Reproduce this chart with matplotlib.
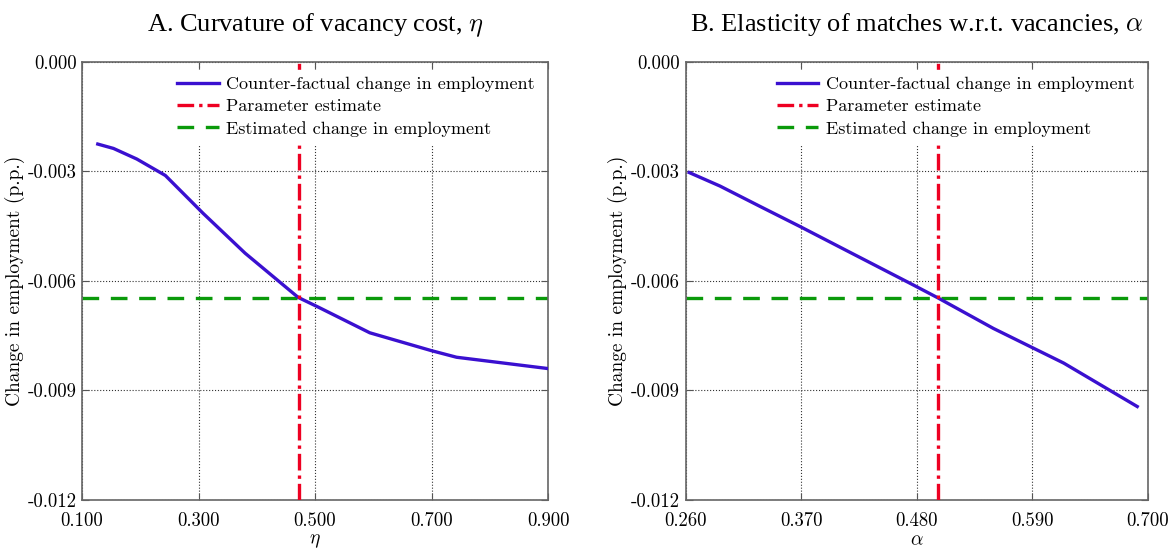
import matplotlib
matplotlib.use("Agg")
import matplotlib.pyplot as plt
import numpy as np

# Panel A data
eta_x = [0.127, 0.154, 0.194, 0.243, 0.308, 0.380, 0.471, 0.506, 0.594, 0.700, 0.743, 0.900]
eta_y = [-0.00225, -0.00237, -0.00266, -0.00311, -0.00415, -0.00524, -0.00645, -0.00672,
         -0.00742, -0.00791, -0.00809, -0.00840]
eta_est = 0.4725

# Panel B data
alpha_x = [0.2634, 0.2927, 0.331, 0.369, 0.4134, 0.4768, 0.500, 0.553, 0.620, 0.690]
alpha_y = [-0.00303, -0.00340, -0.00396, -0.00451, -0.00517, -0.00611, -0.00646, -0.00730,
           -0.00825, -0.00944]
alpha_est = 0.500

est_change = -0.00646

eta_ticks = [0.1, 0.3, 0.5, 0.7, 0.9]
alpha_ticks = [0.26, 0.37, 0.48, 0.59, 0.70]
y_ticks = [0.0, -0.003, -0.006, -0.009, -0.012]
y_ticklabels = ["0.000", "-0.003", "-0.006", "-0.009", "-0.012"]

titles = ["A. Curvature of vacancy cost, $\\eta$", "B. Elasticity of matches w.r.t. vacancies, $\\alpha$"]
xlabels = ["$\\eta$", "$\\alpha$"]

plt.rcParams['font.family'] = ['cmr10', 'DejaVu Serif']
plt.rcParams['mathtext.fontset'] = 'cm'
plt.rcParams['axes.unicode_minus'] = False

fig = plt.figure(figsize=(11.72, 5.51), dpi=100)
axA = fig.add_axes([0.070, 0.0926, 0.3976, 0.795])
axB = fig.add_axes([0.585, 0.0926, 0.3943, 0.795])

panels = [
    (axA, eta_x, eta_y, eta_est, eta_ticks, (0.1, 0.9), "%.3f"),
    (axB, alpha_x, alpha_y, alpha_est, alpha_ticks, (0.26, 0.70), "%.3f"),
]

blue = "#3a10d0"
red = "#ee0022"
green = "#0a9a0a"

for i, (ax, xs, ys, est, xt, xl, fmt) in enumerate(panels):
    ax.plot(xs, ys, color=blue, lw=2.4, label="Counter-factual change in employment", zorder=3)
    ax.axvline(est, color=red, lw=2.4, ls=(0, (5, 1.5, 1, 1.5)), label="Parameter estimate", zorder=4)
    ax.axhline(est_change, color=green, lw=2.4, ls=(0, (5, 3.5)), label="Estimated change in employment", zorder=2)
    ax.set_xlim(*xl)
    ax.set_ylim(-0.012, 0.0)
    ax.set_xticks(xt)
    ax.set_xticklabels([fmt % v for v in xt])
    ax.set_yticks(y_ticks)
    ax.set_yticklabels(y_ticklabels)
    ax.tick_params(direction='in', top=True, right=True, labelsize=13.5, length=5, color='#555555')
    ax.tick_params(axis='x', pad=9)
    ax.tick_params(axis='y', pad=4)
    ax.grid(True, ls=':', color='#333333', lw=0.8)
    for s in ax.spines.values():
        s.set_color('#666666')
        s.set_linewidth(1.2)
    ax.set_xlabel(xlabels[i], fontsize=14, labelpad=1)
    ax.set_ylabel("Change in employment (p.p.)", fontsize=14, labelpad=2)
    ax.set_title(titles[i], fontsize=19, pad=22, family=['Liberation Serif'])
    leg = ax.legend(loc='upper right', frameon=True, fontsize=13, handlelength=2.3,
                    borderaxespad=0.35, labelspacing=0.35, handletextpad=0.4,
                    bbox_to_anchor=(1.0, 0.997))
    leg.get_frame().set_edgecolor('white')
    leg.get_frame().set_facecolor('white')
    leg.get_frame().set_alpha(1.0)

fig.savefig("out.png", dpi=100)
